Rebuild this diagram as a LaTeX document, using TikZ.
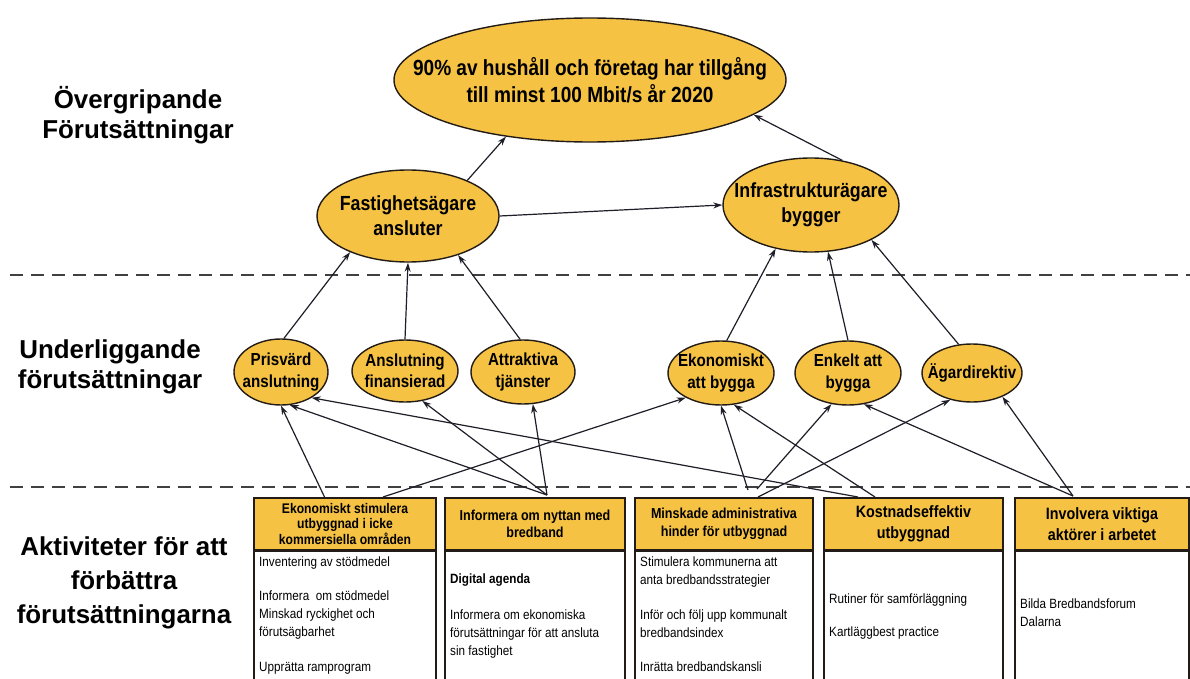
\documentclass[tikz,border=0pt]{standalone}
\usepackage{fontspec}
\setmainfont{Liberation Sans}
\newfontfamily\nf{Liberation Sans}[FakeStretch=0.87]
\usetikzlibrary{shapes.geometric,arrows.meta}
\definecolor{gold}{RGB}{245,194,68}
\definecolor{edge}{RGB}{35,28,22}
\definecolor{lnk}{RGB}{30,30,40}
\newcommand{\zw}[1]{\makebox[0pt]{#1}}
\begin{document}
\begin{tikzpicture}[x=1bp,y=-1bp,
 ell/.style={ellipse,draw=edge,line width=1.4bp,fill=gold,inner sep=0pt,align=center,text=black},
 bigell/.style={ell,font=\nf\bfseries\fontsize{22}{27}\selectfont},
 midell/.style={ell,font=\nf\bfseries\fontsize{20.5}{25}\selectfont},
 smallell/.style={ell,font=\nf\bfseries\fontsize{17.5}{21.5}\selectfont},
 side/.style={font=\bfseries\fontsize{26}{30}\selectfont,align=center,inner sep=0pt},
 head/.style={draw=edge,line width=1.3bp,fill=gold,align=center,inner sep=0pt,minimum height=52bp,font=\nf\bfseries\fontsize{14.5}{17.5}\selectfont},
 bodybox/.style={draw=edge,line width=1.3bp,fill=white,anchor=north west,inner sep=0pt,minimum height=140bp},
 btxt/.style={anchor=north west,inner sep=0pt,align=left,font=\nf\fontsize{13.5}{18}\selectfont},
 link/.style={draw=lnk,line width=1.2bp,-{Stealth[length=9bp,width=6bp]}},
 sep/.style={draw=black!75,line width=1.4bp,dash pattern=on 13bp off 8bp}]
\useasboundingbox (0,0) rectangle (1190,679);
\fill[white] (0,0) rectangle (1190,679);

% separators
\draw[sep] (10,275) -- (1190,275);
\draw[sep] (10,487) -- (1190,487);

% side labels
\node[side] (l1) at (138,115) {Övergripande\\Förutsättningar};
\node[side] (l2) at (110,367) {Underliggande\\förutsättningar};
\node[side,font=\bfseries\fontsize{26}{34}\selectfont] (l3) at (124,583) {Aktiviteter för att\\förbättra\\förutsättningarna};

% top level
\node[bigell,minimum width=392bp,minimum height=124bp] (goal) at (590,80)
  {\zw{90\% av hushåll och företag har tillgång}\\\zw{till minst 100 Mbit/s år 2020}};
\node[midell,minimum width=182bp,minimum height=92bp] (fast) at (408,216)
  {\zw{Fastighetsägare}\\\zw{ansluter}};
\node[midell,minimum width=176bp,minimum height=94bp] (infra) at (811,205)
  {\zw{Infrastrukturägare}\\\zw{bygger}};

% middle level
\node[smallell,minimum width=94bp,minimum height=66bp] (pris) at (281,372) {\zw{Prisvärd}\\\zw{anslutning}};
\node[smallell,minimum width=106bp,minimum height=62bp] (ansl) at (405,371) {\zw{Anslutning}\\\zw{finansierad}};
\node[smallell,minimum width=104bp,minimum height=64bp] (attr) at (523,372) {\zw{Attraktiva}\\\zw{tjänster}};
\node[smallell,minimum width=106bp,minimum height=64bp] (ekon) at (721,373) {\zw{Ekonomiskt}\\\zw{att bygga}};
\node[smallell,minimum width=106bp,minimum height=64bp] (enk) at (848,373) {\zw{Enkelt att}\\\zw{bygga}};
\node[smallell,minimum width=100bp,minimum height=58bp] (agar) at (972,373) {\zw{Ägardirektiv}};

% activity boxes
\node[head,minimum width=182bp,font=\nf\bfseries\fontsize{14}{16}\selectfont] (h1) at (345,524) {Ekonomiskt stimulera\\utbyggnad i icke\\kommersiella områden};
\node[head,minimum width=180bp] (h2) at (535,524) {Informera om nyttan med\\bredband};
\node[head,minimum width=178bp] (h3) at (724,524) {Minskade administrativa\\hinder för utbyggnad};
\node[head,minimum width=179bp,font=\nf\bfseries\fontsize{16.5}{21}\selectfont] (h4) at (913.5,524) {Kostnadseffektiv\\utbyggnad};
\node[head,minimum width=174bp,font=\nf\bfseries\fontsize{16.5}{21}\selectfont] (h5) at (1102,524) {Involvera viktiga\\aktörer i arbetet};

\node[bodybox,minimum width=182bp] (b1) at (h1.south west) {};
\node[bodybox,minimum width=180bp] (b2) at (h2.south west) {};
\node[bodybox,minimum width=178bp] (b3) at (h3.south west) {};
\node[bodybox,minimum width=179bp] (b4) at (h4.south west) {};
\node[bodybox,minimum width=174bp] (b5) at (h5.south west) {};

\node[btxt] (t11) at (259,557) {Inventering av stödmedel};
\node[btxt] (t12) at (259,591) {Informera\ \ om stödmedel\\Minskad ryckighet och\\förutsägbarhet};
\node[btxt] (t13) at (259,662) {Upprätta ramprogram};
\node[btxt,font=\nf\bfseries\fontsize{13.5}{18}\selectfont] (t21) at (450,574) {Digital agenda};
\node[btxt] (t22) at (450,610) {Informera om ekonomiska\\förutsättningar för att ansluta\\sin fastighet};
\node[btxt] (t31) at (640,557) {Stimulera kommunerna att\\anta bredbandsstrategier};
\node[btxt] (t32) at (640,610) {Inför och följ upp kommunalt\\bredbandsindex};
\node[btxt] (t33) at (640,662) {Inrätta bredbandskansli};
\node[btxt] (t41) at (829,594) {Rutiner för samförläggning};
\node[btxt] (t42) at (829,627) {Kartläggbest practice};
\node[btxt] (t51) at (1020,599) {Bilda Bredbandsforum\\Dalarna};

% start points on box tops
\coordinate (s1a) at (325,498);
\coordinate (s1b) at (383,497);
\coordinate (s2) at (547,495);
\coordinate (s3a) at (748,490);
\coordinate (s3b) at (757,489);
\coordinate (s3c) at (758,497);
\coordinate (s4a) at (858,497);
\coordinate (s4b) at (875,497);
\coordinate (s5) at (1073,496);

% activity -> underlying
\draw[link] (s1a) -- (pris.south);
\draw[link] (s2) -- (pris.285);
\draw[link] (s4a) -- (pris.320);
\draw[link] (s2) -- (ansl.300);
\draw[link] (s2) -- (attr.287);
\draw[link] (s1b) -- (ekon.215);
\draw[link] (s3a) -- (ekon.south);
\draw[link] (s4b) -- (ekon.292);
\draw[link] (s3b) -- (enk.242);
\draw[link] (s5) -- (enk.297);
\draw[link] (s3c) -- (agar.231);
\draw[link] (s5) -- (agar.322);

% underlying -> overarching
\draw[link] (pris.85) -- (fast.212);
\draw[link] (ansl.north) -- (fast.south);
\draw[link] (attr.95) -- (fast.322);
\draw[link] (ekon.80) -- (infra.231);
\draw[link] (enk.north) -- (infra.290);
\draw[link] (agar.115) -- (infra.330);
\draw[link] (fast.31) -- (goal.214);
\draw[link] (fast.east) -- (infra.west);
\draw[link] (infra.55) -- (goal.348);
\end{tikzpicture}
\end{document}
